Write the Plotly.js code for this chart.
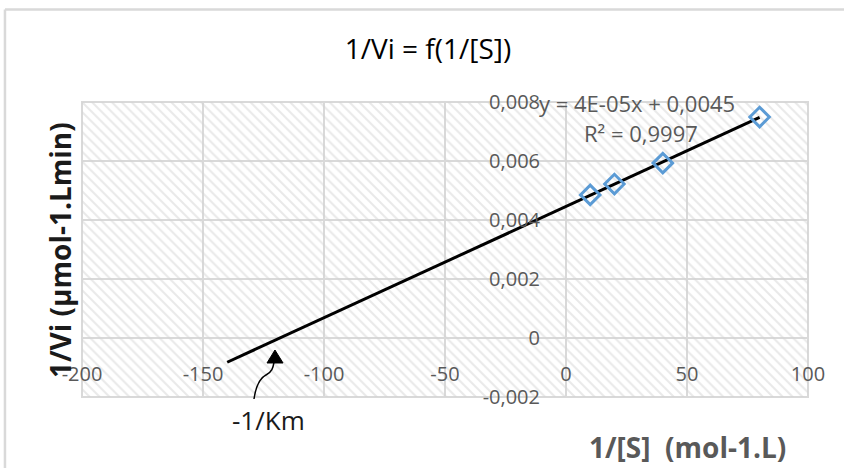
<!DOCTYPE html>
<html>
<head>
<meta charset="utf-8">
<script src="https://cdn.plot.ly/plotly-3.0.1.min.js"></script>
<style>html,body{margin:0;padding:0;background:#fff;overflow:hidden;}#chart{width:844px;height:468px;}</style>
</head>
<body>
<div id="chart"></div>
<script>
// ---- data ----
var invS = [10, 20, 40, 80];                      // 1/[S] (mol-1.L)
var invV = [0.00485, 0.00522, 0.00593, 0.00749];  // 1/Vi
var trendBackward = 150;                          // Excel trendline backward forecast
var xRange = [-200, 100];
var yRange = [-0.002, 0.008];
var xTickVals = [-200, -150, -100, -50, 0, 50, 100];
var xTickText = ['-200', '-150', '-100', '-50', '0', '50', '100'];
var yTickVals = [-0.002, 0, 0.002, 0.004, 0.006, 0.008];
var yTickText = ['-0,002', '0', '0,002', '0,004', '0,006', '0,008'];
var titleText = '1/Vi = f(1/[S])';
var xTitleText = '1/[S]  (mol-1.L)';
var yTitleText = '1/Vi (µmol-1.Lmin)';
var eqText = 'y = 4E-05x + 0,0045';
var r2Text = 'R² = 0,9997';
var kmText = '-1/Km';

// ---- linear least squares fit (trendline) ----
var n = invS.length, mx = 0, my = 0;
for (var i = 0; i < n; i++) { mx += invS[i]; my += invV[i]; }
mx /= n; my /= n;
var sxx = 0, sxy = 0;
for (var i = 0; i < n; i++) { sxx += (invS[i]-mx)*(invS[i]-mx); sxy += (invS[i]-mx)*(invV[i]-my); }
var slope = sxy/sxx, intercept = my - slope*mx;
var tx = [Math.min.apply(null, invS) - trendBackward, Math.max.apply(null, invS)];
var ty = tx.map(function(v){ return slope*v + intercept; });

var gridCol = '#d9d9d9';
var txtCol = '#595959';
var FONT = 'Open Sans, Noto Sans, sans-serif';

var hatch = {
  x: [xRange[0], xRange[1], xRange[1], xRange[0], xRange[0]],
  y: [yRange[0], yRange[0], yRange[1], yRange[1], yRange[0]],
  mode: 'none', fill: 'toself', fillcolor: 'rgba(0,0,0,0)',
  fillpattern: {shape: '\\', fgcolor: '#d4d4d4', bgcolor: 'rgba(0,0,0,0)', size: 7, solidity: 0.3, fillmode: 'overlay'},
  hoverinfo: 'skip', showlegend: false
};
var trend = {
  x: tx, y: ty, mode: 'lines', line: {color: '#000000', width: 3}, showlegend: false, hoverinfo: 'skip'
};
var pts = {
  x: invS, y: invV, mode: 'markers',
  marker: {symbol: 'diamond-open', size: 15, color: '#5b9bd5', line: {width: 3, color: '#5b9bd5'}},
  showlegend: false
};

var yZeroFrac = (0 - yRange[0])/(yRange[1]-yRange[0]);
var xZeroFrac = (0 - xRange[0])/(xRange[1]-xRange[0]);

var layout = {
  width: 844, height: 468,
  margin: {l: 82, r: 36, t: 102, b: 71},
  paper_bgcolor: '#ffffff', plot_bgcolor: '#ffffff',
  separators: ',.',
  showlegend: false,
  title: {text: titleText, x: 428/844, xref: 'container', xanchor: 'center', y: 1 - 49/468, yref: 'container', yanchor: 'middle',
          font: {family: FONT, size: 28, color: '#000000'}},
  xaxis: {range: xRange, tickvals: xTickVals, ticktext: xTickText, anchor: 'free', position: yZeroFrac,
          showgrid: true, gridcolor: gridCol, gridwidth: 2, zeroline: false, showline: false,
          ticks: 'outside', ticklen: 18, tickcolor: 'rgba(0,0,0,0)',
          tickfont: {family: FONT, size: 20, color: txtCol}, fixedrange: true},
  yaxis: {range: yRange, tickvals: yTickVals, ticktext: yTickText, anchor: 'free', position: xZeroFrac,
          showgrid: true, gridcolor: gridCol, gridwidth: 2, zeroline: false, showline: false,
          ticks: 'outside', ticklen: 22, tickcolor: 'rgba(0,0,0,0)',
          tickfont: {family: FONT, size: 20, color: txtCol}, fixedrange: true},
  shapes: [
    {type: 'rect', xref: 'paper', yref: 'paper', x0: 0, x1: 1, y0: 0, y1: 1, line: {color: gridCol, width: 2}, layer: 'below'},
    {type: 'line', xref: 'paper', yref: 'paper', x0: -0.1061, x1: -0.1061, y0: -0.5, y1: 1.3136, line: {color: gridCol, width: 2.5}},
    {type: 'line', xref: 'paper', yref: 'paper', x0: -0.1061, x1: 1.2, y0: 1.3136, y1: 1.3136, line: {color: gridCol, width: 2.5}},
    {type: 'path', xref: 'paper', yref: 'paper',
     path: 'M 0.2369,-0.0068 C 0.2397,0.0407 0.2452,0.0644 0.2534,0.0746 C 0.2617,0.0847 0.2631,0.0983 0.2645,0.1186',
     line: {color: '#000000', width: 1.5}},
    {type: 'path', xref: 'paper', yref: 'paper', path: 'M 0.2658,0.1593 L 0.2548,0.1153 L 0.2769,0.1153 Z',
     fillcolor: '#000000', line: {color: '#000000', width: 1}}
  ],
  annotations: [
    {text: eqText, xref: 'paper', yref: 'paper', x: (637-82)/726, y: (397-103)/295, xanchor: 'center', yanchor: 'middle', showarrow: false,
     font: {family: FONT, size: 22, color: txtCol}},
    {text: r2Text, xref: 'paper', yref: 'paper', x: (641-82)/726, y: (397-133)/295, xanchor: 'center', yanchor: 'middle', showarrow: false,
     font: {family: FONT, size: 22, color: txtCol}},
    {text: kmText, xref: 'paper', yref: 'paper', x: (268-82)/726, y: (397-420)/295, xanchor: 'center', yanchor: 'middle', showarrow: false,
     font: {family: FONT, size: 26, color: '#1a1a1a'}},
    {text: '<b>' + xTitleText + '</b>', xref: 'paper', yref: 'paper', x: (687-82)/726, y: (397-447)/295, xanchor: 'center', yanchor: 'middle', showarrow: false,
     font: {family: FONT, size: 28, color: txtCol}},
    {text: '<b>' + yTitleText + '</b>', xref: 'paper', yref: 'paper', x: (60-82)/726, y: (397-250)/295, xanchor: 'center', yanchor: 'middle', showarrow: false,
     textangle: -90, font: {family: FONT, size: 28, color: '#1a1a1a'}}
  ]
};

Plotly.newPlot('chart', [hatch, trend, pts], layout, {displayModeBar: false, staticPlot: true});
</script>
</body>
</html>
